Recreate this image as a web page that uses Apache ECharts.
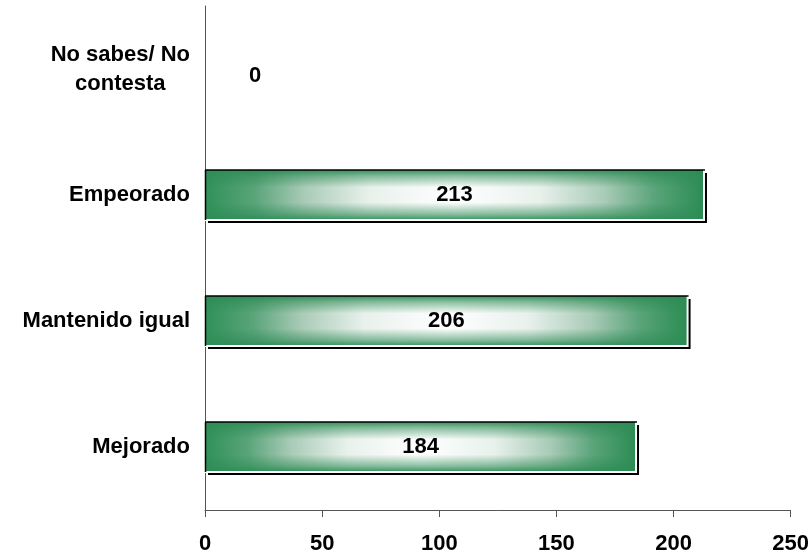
<!DOCTYPE html>
<html>
<head>
<meta charset="utf-8">
<script src="https://cdn.jsdelivr.net/npm/echarts@6/dist/echarts.min.js"></script>
<style>html,body{margin:0;padding:0;background:#fff}#c{width:812px;height:558px}</style>
</head>
<body>
<div id="c"></div>
<script>
var categories = ['Mejorado', 'Mantenido igual', 'Empeorado', 'No sabes/ No\ncontesta'];
var values = [184, 206, 213, 0];
var xTicks = [0, 50, 100, 150, 200, 250];

var BAR_W = 50;
var hGrad = new echarts.graphic.LinearGradient(0, 0, 1, 0, [
  {offset: 0, color: '#2f9158'},
  {offset: 0.1, color: '#5aa47a'},
  {offset: 0.2, color: '#a9cbb7'},
  {offset: 0.33, color: '#e8f1ec'},
  {offset: 0.5, color: '#ffffff'},
  {offset: 0.67, color: '#e8f1ec'},
  {offset: 0.8, color: '#a9cbb7'},
  {offset: 0.9, color: '#5aa47a'},
  {offset: 1, color: '#2b8c52'}
]);
var vGrad = new echarts.graphic.LinearGradient(0, 0, 0, 1, [
  {offset: 0, color: 'rgba(45,140,85,0.95)'},
  {offset: 0.12, color: 'rgba(45,140,85,0.55)'},
  {offset: 0.35, color: 'rgba(45,140,85,0.0)'},
  {offset: 0.65, color: 'rgba(45,140,85,0.0)'},
  {offset: 0.88, color: 'rgba(45,140,85,0.55)'},
  {offset: 1, color: 'rgba(45,140,85,0.95)'}
]);

var font = '"Liberation Sans", Arial, sans-serif';
var FS = 22;
var chart = echarts.init(document.getElementById('c'), null, {renderer: 'canvas'});
chart.setOption({
  animation: false,
  backgroundColor: '#fff',
  grid: {left: 205, right: 21, top: 6, bottom: 48, containLabel: false},
  xAxis: {
    type: 'value', min: xTicks[0], max: xTicks[xTicks.length - 1], interval: 50,
    splitLine: {show: false},
    axisLine: {show: true, lineStyle: {color: '#555', width: 1}},
    axisTick: {show: true, length: 7, lineStyle: {color: '#555'}},
    axisLabel: {margin: 23, color: '#000', fontSize: FS, fontWeight: 'bold', fontFamily: font}
  },
  yAxis: {
    type: 'category', data: categories,
    axisLine: {show: true, lineStyle: {color: '#555', width: 1}},
    axisTick: {show: false},
    axisLabel: {
      margin: 15, color: '#000', fontSize: FS, fontWeight: 'bold', fontFamily: font, lineHeight: 29,
      formatter: function (v) {
        if (v.indexOf('\n') >= 0) {
          return v.split('\n').map(function (s) { return '{c|' + s + '}'; }).join('\n');
        }
        return v;
      },
      rich: {c: {align: 'center', fontSize: FS, fontWeight: 'bold', fontFamily: font, color: '#000', lineHeight: 29}}
    }
  },
  series: [
    {
      type: 'bar', barWidth: BAR_W, barGap: '-100%',
      data: values.map(function (v) {
        return v === 0 ? {value: v, itemStyle: {shadowColor: 'transparent'},
          label: {position: 'right', distance: 44, offset: [0, 7]}} : v;
      }),
      itemStyle: {color: hGrad, borderWidth: 0,
        shadowColor: '#000', shadowOffsetX: 3, shadowOffsetY: 3, shadowBlur: 0},
      label: {show: true, position: 'inside', color: '#000', fontSize: FS, fontWeight: 'bold', fontFamily: font},
      z: 2
    },
    {
      type: 'bar', barWidth: BAR_W, barGap: '-100%',
      data: values,
      itemStyle: {color: vGrad, borderWidth: 0},
      label: {show: false},
      silent: true,
      z: 3
    },
    {
      type: 'custom',
      data: values.map(function (v, i) { return [v, i]; }),
      encode: {x: 0, y: 1},
      silent: true,
      z: 4,
      renderItem: function (params, api) {
        var v = api.value(0);
        if (!v) return null;
        var p0 = api.coord([0, api.value(1)]);
        var p1 = api.coord([v, api.value(1)]);
        var x0 = p0[0], x1 = p1[0];
        var y0 = p0[1] - BAR_W / 2, y1 = p0[1] + BAR_W / 2;
        return {
          type: 'group',
          children: [
            {type: 'line', shape: {x1: x0, y1: y1, x2: x1, y2: y1}, style: {stroke: '#fff', lineWidth: 2}},
            {type: 'line', shape: {x1: x1, y1: y0, x2: x1, y2: y1 + 1}, style: {stroke: '#fff', lineWidth: 2}},
            {type: 'line', shape: {x1: x0, y1: y0, x2: x1 + 1, y2: y0}, style: {stroke: '#000', lineWidth: 1.5}},
            {type: 'line', shape: {x1: x0 + 0.5, y1: y0, x2: x0 + 0.5, y2: y1}, style: {stroke: '#000', lineWidth: 1.5}}
          ]
        };
      }
    }
  ]
});
</script>
</body>
</html>
